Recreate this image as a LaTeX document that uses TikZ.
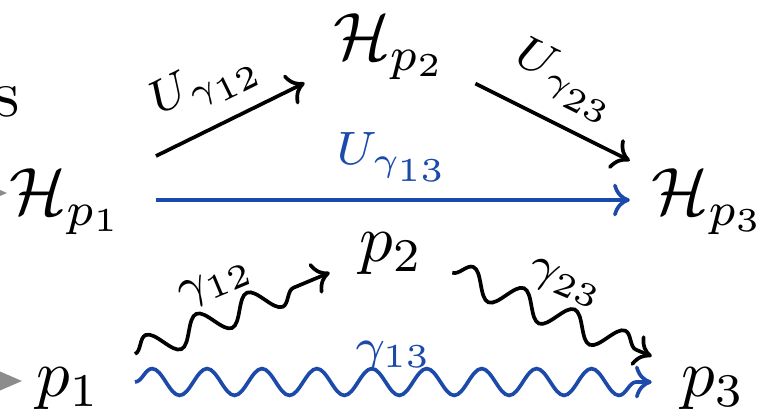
\documentclass[tikz,border=0pt]{standalone}
\usetikzlibrary{arrows.meta,decorations.pathmorphing}
\definecolor{myblue}{RGB}{28,74,170}
\definecolor{tipgray}{RGB}{140,140,140}
\begin{document}
\begin{tikzpicture}[x=0.1493pt, y=-0.1493pt,
  cmto/.style={line width=0.55pt, -{Computer Modern Rightarrow[length=2.5pt,width=4.9pt]}},
  hnode/.style={inner sep=0pt, text height=6.83pt, minimum height=15pt},
  pnode/.style={inner sep=0pt, text height=4.31pt, text depth=0pt, minimum height=15pt},
  ulbl/.style={inner sep=2.5pt},
  glbl/.style={inner sep=2.4pt},
  snk/.style={decorate, decoration={snake, amplitude=2pt, segment length=8.2pt, post length=2.2pt}},
  grayarr/.style={draw=tipgray, line width=1pt, -{Triangle[length=3.5pt,width=2.6pt]}, fill=tipgray}
]
\useasboundingbox (0,0) rectangle (773,414);

% left-edge remnants
\node[anchor=base east, inner sep=0pt] (s) at (21,117) {s};
\coordinate (g1s) at (-60,193);
\coordinate (g1e) at (8,193);
\coordinate (g2s) at (-60,381);
\coordinate (g2e) at (23,381);
\draw[grayarr] (g1s) -- (g1e);
\draw[grayarr] (g2s) -- (g2e);

% Hilbert spaces
\node[hnode, text depth=2.35pt, minimum width=26.3pt] (h1) at (66.5,200) {$\mathcal{H}_{p_1}$};
\node[hnode, text depth=1.16pt, minimum width=25.1pt] (h2) at (390,41) {$\mathcal{H}_{p_2}$};
\node[hnode, text depth=2.35pt, minimum width=23.1pt] (h3) at (708.5,200) {$\mathcal{H}_{p_3}$};

% points
\node[pnode, minimum width=19.6pt] (p1) at (68,382) {$p_1$};
\node[pnode, minimum width=17.9pt] (p2) at (391,247) {$p_2$};
\node[pnode, minimum width=17.9pt] (p3) at (713,382) {$p_3$};

% unitary maps
\draw[cmto] (h1) -- node[ulbl, pos=0.465, sloped, above] {$\scriptstyle U_{\gamma_{12}}$} (h2);
\draw[cmto] (h2) -- node[ulbl, pos=0.47, sloped, above] {$\scriptstyle U_{\gamma_{23}}$} (h3);
\draw[cmto, myblue] (h1) -- node[ulbl, midway, above] {$\scriptstyle U_{\gamma_{13}}$} (h3);

% paths
\draw[cmto, snk] (p1) -- node[glbl, pos=0.48, sloped, above] {$\scriptstyle \gamma_{12}$} (p2);
\draw[cmto, snk] (p2) -- node[glbl, pos=0.5, sloped, above] {$\scriptstyle \gamma_{23}$} (p3);
\draw[cmto, snk, myblue] (p1) -- node[inner sep=1.5pt, midway, above] {$\scriptstyle \gamma_{13}$} (p3);
\end{tikzpicture}
\end{document}
